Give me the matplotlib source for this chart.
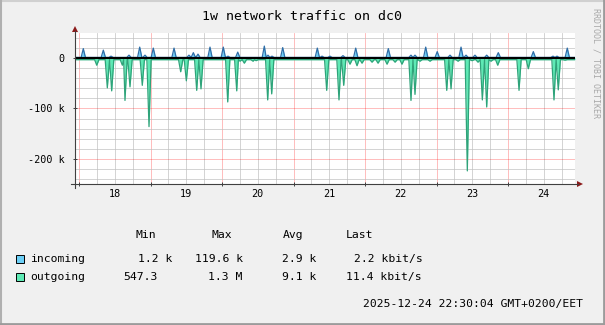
import numpy as np
import matplotlib
matplotlib.use('Agg')
import matplotlib.pyplot as plt
from matplotlib.patches import Rectangle, Polygon
from matplotlib.lines import Line2D
from matplotlib.transforms import blended_transform_factory

W, H = 605, 325
MONO = 'DejaVu Sans Mono'

# time axis in day-of-month (December), one week ending 24th 22:30
X0, X1 = 17.944, 24.937
day_labels = ['18', '19', '20', '21', '22', '23', '24']

# traffic peaks, kbit/s (outgoing drawn negative)
in_days = [18.060, 18.340, 18.448, 18.699, 18.849, 18.923, 19.039, 19.329, 19.538, 19.599,
           19.664, 19.832, 20.018, 20.084, 20.220, 20.592, 20.643, 20.699, 20.849, 21.333,
           21.399, 21.510, 21.692, 21.870, 22.326, 22.643, 22.699, 22.849, 23.010, 23.189,
           23.343, 23.413, 23.538, 23.702, 23.864, 24.354, 24.629, 24.685, 24.829]
in_vals = [19, 16, 4, 6, 22, 6, 20, 20, 6, 11,
           8, 22, 22, 4, 12, 24, 6, 4, 21, 20,
           4, 4, 5, 20, 19, 6, 6, 22, 13, 6,
           22, 6, 6, 6, 11, 13, 4, 4, 20]
in_base = 1.5

out_days = [18.248, 18.396, 18.457, 18.606, 18.643, 18.713, 18.885, 18.979, 19.422, 19.501,
            19.646, 19.706, 20.080, 20.206, 20.252, 20.312, 20.434, 20.476, 20.639, 20.695,
            21.464, 21.636, 21.702, 21.790, 21.888, 21.958, 22.098, 22.182, 22.308, 22.420,
            22.517, 22.643, 22.699, 22.769, 22.909, 23.143, 23.203, 23.301, 23.431, 23.497,
            23.580, 23.641, 23.702, 23.762, 23.856, 24.154, 24.284, 24.643, 24.703, 24.797,
            24.867]
out_vals = [-14, -59, -65, -14, -84, -57, -54, -136, -27, -45,
            -64, -61, -87, -65, -6, -10, -6, -5, -83, -71,
            -64, -83, -54, -12, -15, -10, -8, -10, -12, -8,
            -12, -84, -72, -6, -6, -64, -61, -6, -224, -5,
            -8, -83, -97, -6, -14, -64, -21, -83, -63, -4,
            -3]
out_base = -3

legend_names = ['incoming', 'outgoing']
legend_min = ['1.2 k', '547.3']
legend_max = ['119.6 k', '1.3 M']
legend_avg = ['2.9 k', '9.1 k']
legend_last = ['2.2 kbit/s', '11.4 kbit/s']
timestamp = '2025-12-24 22:30:04 GMT+0200/EET'


def spikes(days, vals, base, half):
    t, v = [X0], [base]
    n = len(days)
    for i, (d, val) in enumerate(zip(days, vals)):
        left = d - half if i == 0 else max(d - half, (days[i - 1] + d) / 2)
        right = d + half if i == n - 1 else min(d + half, (d + days[i + 1]) / 2)
        t += [left, d, right]
        v += [base, val, base]
    t.append(X1)
    v.append(base)
    return np.array(t), np.array(v)


def fx(x):
    return x / W


def fy(y):
    return 1 - y / H


fig = plt.figure(figsize=(W / 100, H / 100), dpi=100, facecolor='#F0F0F0')
ax = fig.add_axes([fx(75), fy(184), 500 / W, 151 / H])
ax.set_facecolor('white')
ax.set_xlim(X0, X1)
ax.set_ylim(-250, 50)

# grid
ax.set_xticks(np.arange(18, 25, 1.0))
ax.set_xticks(np.arange(18, 25, 0.25), minor=True)
ax.set_yticks([-200, -100, 0])
ax.set_yticks(np.arange(-240, 50, 20), minor=True)
ax.grid(True, which='minor', color='#C0C0C0', lw=0.6, alpha=0.8)
ax.grid(True, which='major', color='#FF0000', lw=0.6, alpha=0.3)
ax.set_axisbelow(True)
for s in ax.spines.values():
    s.set_visible(False)
ax.tick_params(which='minor', length=0)
ax.tick_params(which='major', length=3, direction='inout', color='#404040', width=0.7)
ax.set_xticklabels([])
ax.set_yticklabels(['-200 k', '-100 k', '0'], fontfamily=MONO, fontsize=7.3)
ax.tick_params(axis='y', pad=6)

trans = blended_transform_factory(ax.transData, ax.transAxes)
for i, lab in enumerate(day_labels):
    ax.text(18.5 + i, -0.065, lab, transform=trans, ha='center', va='center',
            fontfamily=MONO, fontsize=7.3, color='black')

# data
t, v = spikes(in_days, in_vals, in_base, 0.03)
ax.fill_between(t, 0, v, color='#6CCFF6', lw=0, zorder=3)
ax.plot(t, v, color='#2F6EA8', lw=0.9, zorder=4)
t, v = spikes(out_days, out_vals, out_base, 0.03)
ax.fill_between(t, 0, v, color='#5EEAB5', lw=0, zorder=3)
ax.plot(t, v, color='#2FA37A', lw=0.9, zorder=4)
ax.axhline(0, color='black', lw=1.5, zorder=5)

# axis lines with arrows
fig.add_artist(Line2D([fx(75), fx(75)], [fy(188), fy(31)], color='#404040', lw=0.8))
fig.add_artist(Line2D([fx(71), fx(578)], [fy(184), fy(184)], color='#404040', lw=0.8))
fig.add_artist(Polygon([[fx(72), fy(32)], [fx(78), fy(32)], [fx(75), fy(26)]],
                       closed=True, color='#8B1A1A', lw=0))
fig.add_artist(Polygon([[fx(577), fy(181)], [fx(577), fy(187)], [fx(583), fy(184)]],
                       closed=True, color='#8B1A1A', lw=0))

# texts
fig.text(fx(302), fy(17), '1w network traffic on dc0', ha='center', va='center',
         fontfamily=MONO, fontsize=9.5)
fig.text(fx(596), fy(8), 'RRDTOOL / TOBI OETIKER', rotation=270, ha='center', va='top',
         fontfamily=MONO, fontsize=6, color='#A8A8A8')

fs = 8.2
hy = 235
for x, lab in zip([135, 212, 283, 345.6], ['Min', 'Max', 'Avg', 'Last']):
    fig.text(fx(x), fy(hy), lab, ha='left', va='center', fontfamily=MONO, fontsize=fs)

row_y = [259.3, 277.3]
swatch = ['#6CCFF6', '#5EEAB5']
min_x = [137.5, 123.5]
max_x = [195, 208.5]
avg_x = [282, 282]
last_x = [353.7, 345.6]
for i in range(2):
    y = row_y[i]
    fig.add_artist(Rectangle((fx(16), fy(y + 4)), 8 / W, 8 / H, facecolor=swatch[i],
                             edgecolor='black', lw=0.7))
    fig.text(fx(30), fy(y), legend_names[i], ha='left', va='center', fontfamily=MONO, fontsize=fs)
    fig.text(fx(min_x[i]), fy(y), legend_min[i], ha='left', va='center', fontfamily=MONO, fontsize=fs)
    fig.text(fx(max_x[i]), fy(y), legend_max[i], ha='left', va='center', fontfamily=MONO, fontsize=fs)
    fig.text(fx(avg_x[i]), fy(y), legend_avg[i], ha='left', va='center', fontfamily=MONO, fontsize=fs)
    fig.text(fx(last_x[i]), fy(y), legend_last[i], ha='left', va='center', fontfamily=MONO, fontsize=fs)

fig.text(fx(583), fy(304), timestamp, ha='right', va='center', fontfamily=MONO, fontsize=fs)

# frame
fig.add_artist(Line2D([0, 1], [fy(1), fy(1)], color='#D0D0D0', lw=1.5))
fig.add_artist(Line2D([fx(1), fx(1)], [0, 1], color='#B0B0B0', lw=1.5))
fig.add_artist(Line2D([0, 1], [fy(324), fy(324)], color='#9B9B9B', lw=2))
fig.add_artist(Line2D([fx(604), fx(604)], [0, 1], color='#9B9B9B', lw=2))

fig.savefig('out.png', dpi=100, facecolor=fig.get_facecolor())
